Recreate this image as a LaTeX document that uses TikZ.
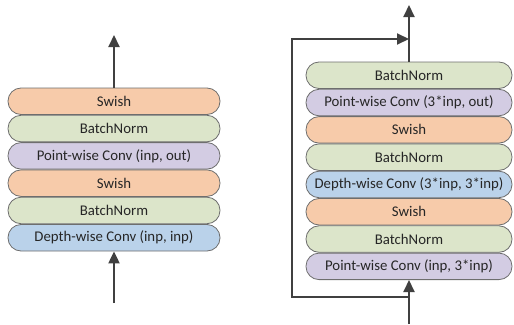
\documentclass[tikz,border=0pt]{standalone}
\usepackage{fontspec}
\setmainfont{Carlito}
\usetikzlibrary{positioning, arrows.meta}

\definecolor{swishfill}{HTML}{F7CBAA}
\definecolor{bnfill}{HTML}{DCE5CA}
\definecolor{pwfill}{HTML}{D3CCE3}
\definecolor{dwfill}{HTML}{BAD2EA}
\definecolor{edgegray}{HTML}{6E6E6E}
\definecolor{wiregray}{HTML}{404040}

\begin{document}
\begin{tikzpicture}[
    x=1pt, y=-1pt,
    >={Triangle[length=12pt, width=11pt]},
    font=\fontsize{14.8}{16}\selectfont,
    node distance=0pt
]

    % Global styles for the layers
    \tikzset{
        layer/.style={
            draw=edgegray, line width=0.8pt, rounded corners=13pt,
            minimum height=26.5pt, inner sep=0pt, text=black!85
        },
        leftlayer/.style={layer, minimum width=212pt},
        rightlayer/.style={layer, minimum width=206pt},
        wire/.style={draw=wiregray, line width=2pt}
    }

    \useasboundingbox (0,0) rectangle (514,324);

    % Left block
    \node[leftlayer, fill=swishfill] (L1) at (114,101.25) {Swish};
    \node[leftlayer, fill=bnfill, below=of L1] (L2) {BatchNorm};
    \node[leftlayer, fill=pwfill, below=of L2] (L3) {Point-wise Conv (inp, out)};
    \node[leftlayer, fill=swishfill, below=of L3] (L4) {Swish};
    \node[leftlayer, fill=bnfill, below=of L4] (L5) {BatchNorm};
    \node[leftlayer, fill=dwfill, below=of L5] (L6) {Depth-wise Conv (inp, inp)};

    % Left in / out
    \coordinate (Lin) at (114,303);
    \coordinate (Lout) at (114,35);
    \draw[wire, ->] (Lin) -- (L6.south);
    \draw[wire, ->] (L1.north) -- (Lout);

    % Right block
    \node[rightlayer, fill=bnfill] (R1) at (409,75.25) {BatchNorm};
    \node[rightlayer, fill=pwfill, below=of R1] (R2) {Point-wise Conv (3*inp, out)};
    \node[rightlayer, fill=swishfill, below=of R2] (R3) {Swish};
    \node[rightlayer, fill=bnfill, below=of R3] (R4) {BatchNorm};
    \node[rightlayer, fill=dwfill, below=of R4] (R5) {Depth-wise Conv (3*inp, 3*inp)};
    \node[rightlayer, fill=swishfill, below=of R5] (R6) {Swish};
    \node[rightlayer, fill=bnfill, below=of R6] (R7) {BatchNorm};
    \node[rightlayer, fill=pwfill, below=of R7] (R8) {Point-wise Conv (inp, 3*inp)};

    % Right in / out and skip connection
    \coordinate (Rin) at (409,324);
    \coordinate (Rsplit) at (409,297);
    \coordinate (Rjoin) at (409,39);
    \coordinate (Rout) at (409,5);
    \draw[wire, ->] (Rin) -- (R8.south);
    \draw[wire, ->] (Rsplit) -- ++(-117,0) |- (Rjoin);
    \draw[wire, ->] (R1.north) -- (Rout);

\end{tikzpicture}
\end{document}
